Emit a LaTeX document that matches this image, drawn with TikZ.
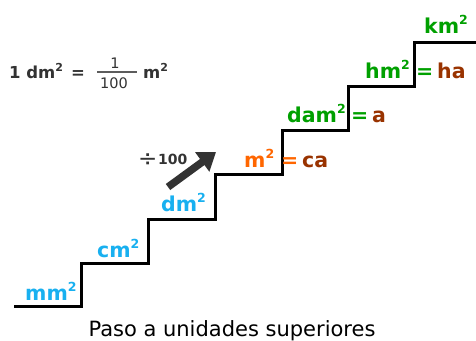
\documentclass[tikz,border=0pt]{standalone}
\usepackage{fontspec}
\setmainfont{DejaVu Sans}
\usetikzlibrary{arrows.meta}
\definecolor{cblue}{RGB}{24,176,240}
\definecolor{corange}{RGB}{255,102,0}
\definecolor{cbrown}{RGB}{153,51,0}
\definecolor{cgreen}{RGB}{0,160,0}
\definecolor{cdark}{RGB}{51,51,51}
\newcommand\unitsq[1]{#1\raisebox{9pt}{\fontsize{12.5}{12.5}\selectfont 2}}
\newcommand\unitsqs[1]{#1\raisebox{7pt}{\fontsize{11}{11}\selectfont 2}}
\begin{document}
\begin{tikzpicture}[x=1pt,y=-1pt,
  lab/.style={inner sep=0pt,anchor=base west,font=\bfseries\fontsize{20.5}{20.5}\selectfont},
  form/.style={inner sep=0pt,font=\bfseries\fontsize{16.5}{16.5}\selectfont,text=cdark},
  fracnum/.style={inner sep=0pt,anchor=base,font=\fontsize{14.5}{14.5}\selectfont,text=cdark},
  stair/.style={line width=3pt,black,line join=miter},
  bigarrow/.style={line width=7.5pt,cdark,-{Triangle[length=17pt,width=23pt]}}]
\useasboundingbox (0,0) rectangle (476,340);
\fill[white] (0,0) rectangle (476,340);
% staircase
\draw[stair] (14,306) -- (81,306) -- (81,263) -- (148,263) -- (148,219) -- (215,219)
  -- (215,174) -- (282,174) -- (282,130) -- (348,130) -- (348,86) -- (414,86)
  -- (414,42) -- (476,42);
% labels
\node[lab,text=cblue] (mm) at (25,300) {\unitsq{mm}};
\node[lab,text=cblue] (cm) at (97,257) {\unitsq{cm}};
\node[lab,text=cblue] (dm) at (161,211) {\unitsq{dm}};
\node[lab,text=corange] (m) at (244,167) {\unitsq{m}};
\node[lab,text=corange] (meq) at (281,167) {=};
\node[lab,text=cbrown] (ca) at (302,167) {ca};
\node[lab,text=cgreen] (dam) at (287,122) {\unitsq{dam}};
\node[lab,text=cgreen] (dameq) at (351,122) {=};
\node[lab,text=cbrown] (a) at (372,122) {a};
\node[lab,text=cgreen] (hm) at (365,78) {\unitsq{hm}};
\node[lab,text=cgreen] (hmeq) at (416,78) {=};
\node[lab,text=cbrown] (ha) at (437,78) {ha};
\node[lab,text=cgreen] (km) at (424,33) {\unitsq{km}};
% formula
\node[form,anchor=base west] (f1) at (9,78) {1 \unitsqs{dm}};
\node[form,anchor=base west] (feq) at (71,78) {=};
\node[fracnum] (num) at (115,68) {1};
\node[fracnum] (den) at (114,88) {100};
\coordinate (barl) at (97,72);
\coordinate (barr) at (137,72);
\draw[line width=1.3pt,cdark!80] (barl) -- (barr);
\node[form,anchor=base west] (fm) at (143,78) {\unitsqs{m}};
% arrow
\coordinate (atail) at (168,187);
\coordinate (ahead) at (216,152);
\draw[bigarrow] (atail) -- (ahead);
\node[inner sep=0pt,anchor=base west,text=cdark,font=\fontsize{23}{23}\selectfont] (divs) at (138,166) {÷};
\node[inner sep=0pt,anchor=base west,text=cdark,font=\bfseries\fontsize{14}{14}\selectfont] (div) at (158,164) {100};
% caption
\node[inner sep=0pt,anchor=base,font=\fontsize{21}{21}\selectfont] (cap) at (232,336) {Paso a unidades superiores};
\end{tikzpicture}
\end{document}
